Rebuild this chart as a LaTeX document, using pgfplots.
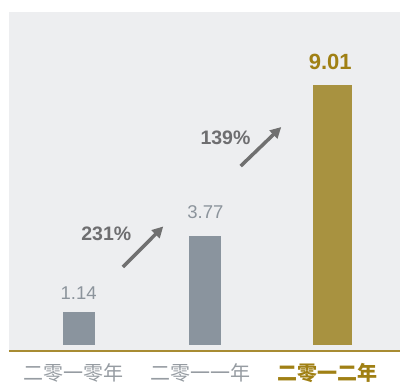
\documentclass[border=0pt]{standalone}
\usepackage{pgfplots}
\pgfplotsset{compat=1.18}
\usepackage{fontspec}
\setmainfont{Liberation Sans}
\newfontfamily\cjk{Noto Sans CJK SC}
\usetikzlibrary{arrows.meta}
\definecolor{bgc}{RGB}{237,238,240}
\definecolor{barg}{RGB}{138,148,158}
\definecolor{bargold}{RGB}{168,146,64}
\definecolor{goldtxt}{RGB}{160,128,20}
\definecolor{goldline}{RGB}{168,140,50}
\definecolor{valgray}{RGB}{140,148,156}
\definecolor{pcttxt}{RGB}{110,110,112}
\definecolor{arrowc}{RGB}{112,112,112}
\definecolor{catgray}{RGB}{150,156,162}
\begin{document}
\begin{tikzpicture}[x=1pt,y=1pt]
\useasboundingbox (0,0) rectangle (400,383);
\begin{axis}[
  at={(9pt,32pt)}, anchor=south west,
  scale only axis, width=391pt, height=339pt,
  xmin=-0.55, xmax=2.535, ymin=-0.2076, ymax=11.52,
  axis background/.style={fill=bgc},
  axis line style={draw=none},
  ytick=\empty,
  xtick={0,1,2},
  xticklabels={二零一零年, 二零一一年, {\color{goldtxt}\bfseries 二零一二年}},
  xticklabel style={font=\cjk\fontsize{20}{20}\selectfont, text=catgray, xshift=-5pt, yshift=-9pt},
  major tick length=0pt,
  clip=false,
]
\addplot[ybar, bar shift=0pt, bar width=32pt, fill=barg, draw=none] coordinates {(0,1.14)};
\addplot[ybar, bar shift=0pt, bar width=32pt, fill=barg, draw=none] coordinates {(1,3.77)};
\addplot[ybar, bar shift=0pt, bar width=39pt, fill=bargold, draw=none] coordinates {(2,9.01)};
\draw[goldline, line width=2pt] (rel axis cs:0,0) -- (rel axis cs:1,0);
\node[text=valgray, font=\fontsize{18.5}{18.5}\selectfont] at (axis cs:0,1.78) {1.14};
\node[text=valgray, font=\fontsize{18.5}{18.5}\selectfont] at (axis cs:1,4.58) {3.77};
\node[text=goldtxt, font=\bfseries\fontsize{22}{22}\selectfont] at (axis cs:1.985,9.79) {9.01};
\draw[arrowc, line width=3.5pt, -{Triangle[width=11pt,length=11pt]}] (axis cs:0.349,2.70) -- (axis cs:0.667,4.10);
\draw[arrowc, line width=3.5pt, -{Triangle[width=11pt,length=11pt]}] (axis cs:1.278,6.19) -- (axis cs:1.598,7.54);
\node[text=pcttxt, font=\bfseries\fontsize{19.5}{19.5}\selectfont] at (axis cs:0.218,3.83) {231\%};
\node[text=pcttxt, font=\bfseries\fontsize{19.5}{19.5}\selectfont] at (axis cs:1.158,7.18) {139\%};
\end{axis}
\end{tikzpicture}
\end{document}
